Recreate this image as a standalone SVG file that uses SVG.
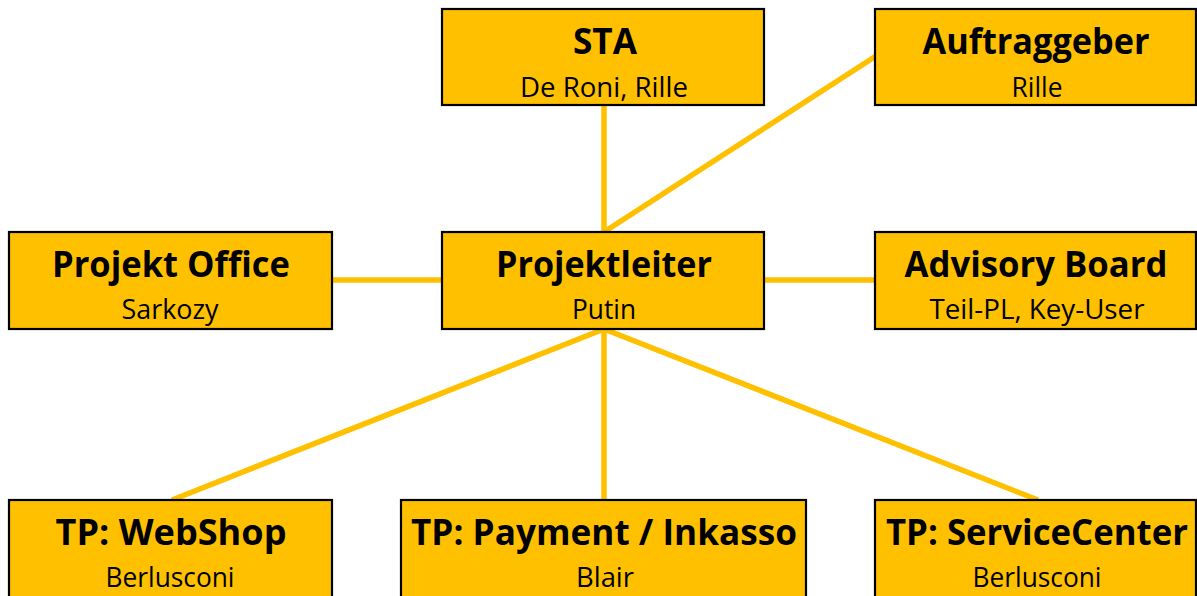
<svg xmlns="http://www.w3.org/2000/svg" width="1197" height="596" viewBox="0 0 1197 596">
<style>
.box{fill:#FFC000;stroke:#000;stroke-width:2.2}
.t{font-family:"Open Sans","Liberation Sans",sans-serif;font-weight:700;font-size:36px;fill:#000;text-anchor:middle}
.s{font-family:"Open Sans","Liberation Sans",sans-serif;font-weight:400;font-size:28px;fill:#000;text-anchor:middle}
.c{stroke:#FFC000;stroke-width:5.5;fill:none;stroke-linecap:butt}
</style>
<rect width="1197" height="596" fill="#fff"/>
<g id="connectors">
<line class="c" x1="604" y1="105" x2="604" y2="232"/>
<line class="c" x1="876" y1="56" x2="604" y2="232"/>
<line class="c" x1="332" y1="280" x2="442" y2="280"/>
<line class="c" x1="764" y1="280" x2="875" y2="280"/>
<line class="c" x1="604" y1="329" x2="172" y2="500"/>
<line class="c" x1="604" y1="329" x2="604" y2="500"/>
<line class="c" x1="604" y1="329" x2="1038" y2="500"/>
</g>
<g id="sta">
<rect class="box" x="442" y="9" width="322" height="96"/>
<text class="t" x="605" y="54" textLength="64" lengthAdjust="spacingAndGlyphs">STA</text>
<text class="s" x="604" y="97" textLength="168" lengthAdjust="spacingAndGlyphs">De Roni, Rille</text>
</g>
<g id="auftraggeber">
<rect class="box" x="875" y="9" width="321" height="96"/>
<text class="t" x="1036" y="54" textLength="227" lengthAdjust="spacingAndGlyphs">Auftraggeber</text>
<text class="s" x="1037" y="97" textLength="51" lengthAdjust="spacingAndGlyphs">Rille</text>
</g>
<g id="projektoffice">
<rect class="box" x="9" y="232" width="323" height="97"/>
<text class="t" x="171" y="277" textLength="238" lengthAdjust="spacingAndGlyphs">Projekt Office</text>
<text class="s" x="170" y="319" textLength="97" lengthAdjust="spacingAndGlyphs">Sarkozy</text>
</g>
<g id="projektleiter">
<rect class="box" x="442" y="232" width="322" height="97"/>
<text class="t" x="604" y="277" textLength="216" lengthAdjust="spacingAndGlyphs">Projektleiter</text>
<text class="s" x="604" y="319" textLength="64" lengthAdjust="spacingAndGlyphs">Putin</text>
</g>
<g id="advisoryboard">
<rect class="box" x="875" y="232" width="321" height="97"/>
<text class="t" x="1036" y="277" textLength="263" lengthAdjust="spacingAndGlyphs">Advisory Board</text>
<text class="s" x="1037" y="319" textLength="215" lengthAdjust="spacingAndGlyphs">Teil-PL, Key-User</text>
</g>
<g id="tpwebshop">
<rect class="box" x="9" y="500" width="323" height="105"/>
<text class="t" x="171" y="545" textLength="231" lengthAdjust="spacingAndGlyphs">TP: WebShop</text>
<text class="s" x="170" y="587" textLength="129" lengthAdjust="spacingAndGlyphs">Berlusconi</text>
</g>
<g id="tppayment">
<rect class="box" x="401" y="500" width="405" height="105"/>
<text class="t" x="604" y="545" textLength="386" lengthAdjust="spacingAndGlyphs">TP: Payment / Inkasso</text>
<text class="s" x="605" y="587" textLength="58" lengthAdjust="spacingAndGlyphs">Blair</text>
</g>
<g id="tpservicecenter">
<rect class="box" x="875" y="500" width="321" height="105"/>
<text class="t" x="1037" y="545" textLength="302" lengthAdjust="spacingAndGlyphs">TP: ServiceCenter</text>
<text class="s" x="1037" y="587" textLength="129" lengthAdjust="spacingAndGlyphs">Berlusconi</text>
</g>
</svg>
